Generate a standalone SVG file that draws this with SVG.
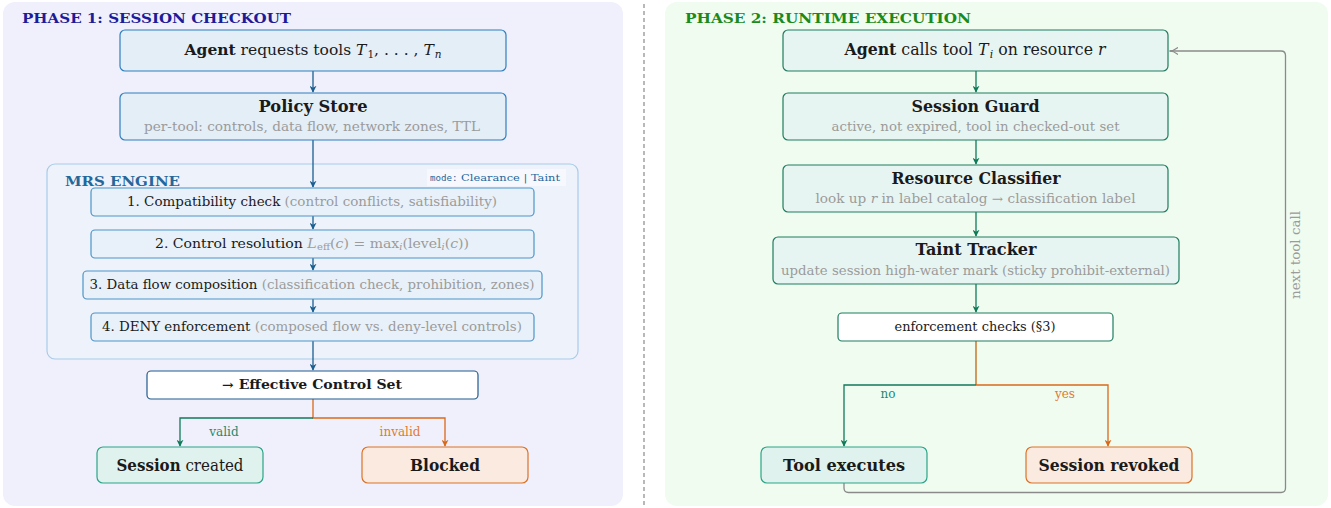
<svg xmlns="http://www.w3.org/2000/svg" width="1331" height="508" viewBox="0 0 1331 508">
<defs>
<style>
text{font-family:"DejaVu Serif","Liberation Serif",serif;fill:#1a1a1a}
.ttl{font-size:16.4px;font-weight:bold;text-anchor:middle}
.big{font-size:16px;text-anchor:middle}
.sub{font-size:12.2px;fill:#9b9b9b;text-anchor:middle}
.step{font-size:12px;text-anchor:middle}
.gr{fill:#9b9b9b}
.nb{fill:#e3eef7;stroke:#2f7fbf;stroke-width:1.2}
.sb{fill:#e8f1f9;stroke:#4b95c9;stroke-width:1.2}
.ng{fill:#e7f5f2;stroke:#1f7c60;stroke-width:1.2}
.okb{fill:#dff2ed;stroke:#2aa588;stroke-width:1.2}
.badb{fill:#fbeadf;stroke:#dc7226;stroke-width:1.2}
.ab{stroke:#1b5f91;stroke-width:1.3;fill:none}
.ag{stroke:#0f7a5a;stroke-width:1.3;fill:none}
.ao{stroke:#d9691a;stroke-width:1.3;fill:none}
.agray{stroke:#8a8a8a;stroke-width:1.3;fill:none}
.it{font-style:italic}
</style>
<marker id="mb" viewBox="0 0 10 10" refX="9" refY="5" markerWidth="7" markerHeight="7" orient="auto" markerUnits="userSpaceOnUse"><path d="M0,0 L10,5 L0,10 L3,5 Z" fill="#1b5f91"/></marker>
<marker id="mg" viewBox="0 0 10 10" refX="9" refY="5" markerWidth="7" markerHeight="7" orient="auto" markerUnits="userSpaceOnUse"><path d="M0,0 L10,5 L0,10 L3,5 Z" fill="#0f7a5a"/></marker>
<marker id="mo" viewBox="0 0 10 10" refX="9" refY="5" markerWidth="7" markerHeight="7" orient="auto" markerUnits="userSpaceOnUse"><path d="M0,0 L10,5 L0,10 L3,5 Z" fill="#d9691a"/></marker>
<marker id="mgr" viewBox="0 0 10 10" refX="9" refY="5" markerWidth="9" markerHeight="9" orient="auto" markerUnits="userSpaceOnUse"><path d="M0,1 Q5,5 10,5 Q5,5 0,9" fill="none" stroke="#8a8a8a" stroke-width="1.3"/></marker>
</defs>

<g id="panels">
<rect x="3" y="2" width="620" height="504" rx="12" fill="#f0f0fc"/>
<rect x="665" y="2" width="663" height="504" rx="12" fill="#f0fcf0"/>
<line x1="644" y1="4" x2="644" y2="506" stroke="#8a8a8a" stroke-width="1.2" stroke-dasharray="4,3"/>
<text x="22" y="22.5" font-size="12.5" font-weight="bold" style="fill:#1c1c9a" textLength="269" lengthAdjust="spacingAndGlyphs">PHASE 1: SESSION CHECKOUT</text>
<text x="685" y="22.5" font-size="12.5" font-weight="bold" style="fill:#1a8a1a" textLength="286" lengthAdjust="spacingAndGlyphs">PHASE 2: RUNTIME EXECUTION</text>
</g>

<g id="mrs-engine">
<rect x="47" y="164" width="531" height="195" rx="8" fill="#eef2fb" stroke="#a6cce8" stroke-width="1.2"/>
<text x="65" y="186" font-size="13" font-weight="bold" style="fill:#24679b" textLength="115" lengthAdjust="spacingAndGlyphs">MRS ENGINE</text>
<rect x="427" y="169" width="139" height="17" fill="#f7f8fe"/>
<text x="430" y="181" font-size="10" style="fill:#24679b" textLength="130" lengthAdjust="spacingAndGlyphs"><tspan font-family="DejaVu Sans Mono,monospace" font-size="8">mode:</tspan> Clearance | Taint</text>
</g>

<g id="connectors">
<line class="ab" x1="313" y1="71" x2="313" y2="92" marker-end="url(#mb)"/>
<line class="ab" x1="313" y1="140" x2="313" y2="187" marker-end="url(#mb)"/>
<line class="ab" x1="313" y1="216" x2="313" y2="229" marker-end="url(#mb)"/>
<line class="ab" x1="313" y1="258" x2="313" y2="270" marker-end="url(#mb)"/>
<line class="ab" x1="313" y1="299" x2="313" y2="312" marker-end="url(#mb)"/>
<line class="ab" x1="313" y1="341" x2="313" y2="370" marker-end="url(#mb)"/>
<path class="ao" d="M313,399 V418 H445 V446" marker-end="url(#mo)"/>
<path class="ag" d="M313,418 H180 V446" marker-end="url(#mg)"/>
<text x="224" y="436" font-size="12" style="fill:#1f8a70" text-anchor="middle">valid</text>
<text x="400" y="436" font-size="12" style="fill:#e07a30" text-anchor="middle">invalid</text>

<line class="ag" x1="976" y1="71" x2="976" y2="92" marker-end="url(#mg)"/>
<line class="ag" x1="976" y1="140" x2="976" y2="164" marker-end="url(#mg)"/>
<line class="ag" x1="976" y1="212" x2="976" y2="236" marker-end="url(#mg)"/>
<line class="ag" x1="976" y1="284" x2="976" y2="312" marker-end="url(#mg)"/>
<path stroke="#c0650f" stroke-width="1.3" fill="none" d="M976,341 V385"/>
<path class="ao" d="M976,385 H1108 V446" marker-end="url(#mo)"/>
<path class="ag" d="M976,385 H844 V446" marker-end="url(#mg)"/>
<text x="888" y="398" font-size="12" style="fill:#1f8a70" text-anchor="middle">no</text>
<text x="1065" y="398" font-size="12" style="fill:#e07a30" text-anchor="middle">yes</text>
<path class="agray" d="M844,483 V488 Q844,492.5 848.5,492.5 H1281 Q1285.5,492.5 1285.5,488 V55.5 Q1285.5,51 1281,51 H1170" marker-end="url(#mgr)"/>
<text transform="translate(1300,255) rotate(-90)" font-size="12" class="gr" text-anchor="middle" textLength="88" lengthAdjust="spacingAndGlyphs">next tool call</text>
</g>

<g id="agent-request">
<rect class="nb" x="120" y="30" width="386" height="41" rx="5"/>
<text x="313" y="55" font-size="15.5" text-anchor="middle"><tspan font-weight="bold">Agent</tspan> requests tools <tspan class="it">T</tspan><tspan font-size="10.5" dx="1" dy="3">1</tspan><tspan dy="-3">, . . . , </tspan><tspan class="it">T</tspan><tspan class="it" font-size="10.5" dx="1" dy="3">n</tspan></text>
</g>

<g id="policy-store">
<rect class="nb" x="120" y="93" width="386" height="47" rx="5"/>
<text class="ttl" x="313" y="111.5" textLength="109" lengthAdjust="spacingAndGlyphs">Policy Store</text>
<text class="sub" x="312" y="131" textLength="336" lengthAdjust="spacingAndGlyphs">per-tool: controls, data flow, network zones, TTL</text>
</g>

<g id="step1">
<rect class="sb" x="91" y="188" width="443" height="28" rx="4"/>
<text class="step" x="312" y="206" textLength="370" lengthAdjust="spacingAndGlyphs">1. Compatibility check <tspan class="gr">(control conflicts, satisfiability)</tspan></text>
</g>
<g id="step2">
<rect class="sb" x="91" y="230" width="443" height="28" rx="4"/>
<text class="step" x="312" y="247.5" textLength="314" lengthAdjust="spacingAndGlyphs">2. Control resolution <tspan class="gr"><tspan class="it">L</tspan><tspan font-size="8.5" dx="0.5" dy="2.5">eff</tspan><tspan dy="-2.5">(</tspan><tspan class="it">c</tspan>) = max<tspan class="it" font-size="8.5" dy="2.5">i</tspan><tspan dy="-2.5">(level</tspan><tspan class="it" font-size="8.5" dy="2.5">i</tspan><tspan dy="-2.5">(</tspan><tspan class="it">c</tspan>))</tspan></text>
</g>
<g id="step3">
<rect class="sb" x="83" y="271" width="459" height="28" rx="4"/>
<text class="step" x="312" y="289" textLength="445" lengthAdjust="spacingAndGlyphs">3. Data flow composition <tspan class="gr">(classification check, prohibition, zones)</tspan></text>
</g>
<g id="step4">
<rect class="sb" x="91" y="313" width="443" height="28" rx="4"/>
<text class="step" x="312" y="330.5" textLength="420" lengthAdjust="spacingAndGlyphs">4. DENY enforcement <tspan class="gr">(composed flow vs. deny-level controls)</tspan></text>
</g>

<g id="effective-control-set">
<rect x="147" y="371" width="331" height="28" rx="4" fill="#ffffff" stroke="#1f5a8c" stroke-width="1.2"/>
<text class="step" x="312" y="389" font-weight="bold" textLength="180" lengthAdjust="spacingAndGlyphs">→ Effective Control Set</text>
</g>

<g id="session-created">
<rect class="okb" x="97" y="447" width="166" height="36" rx="6"/>
<text class="big" x="180" y="470.5" textLength="127" lengthAdjust="spacingAndGlyphs"><tspan font-weight="bold">Session</tspan> created</text>
</g>
<g id="blocked">
<rect class="badb" x="362" y="447" width="166" height="36" rx="6"/>
<text class="ttl" x="445" y="470.5" textLength="70" lengthAdjust="spacingAndGlyphs">Blocked</text>
</g>

<g id="agent-call">
<rect class="ng" x="783" y="30" width="385" height="41" rx="5"/>
<text class="big" x="975" y="55" textLength="261" lengthAdjust="spacingAndGlyphs"><tspan font-weight="bold">Agent</tspan> calls tool <tspan class="it">T</tspan><tspan class="it" font-size="11" dx="1.5" dy="3">i</tspan><tspan dy="-3"> on resource </tspan><tspan class="it">r</tspan></text>
</g>
<g id="session-guard">
<rect class="ng" x="783" y="93" width="385" height="47" rx="5"/>
<text class="ttl" x="975.5" y="111.5" textLength="128" lengthAdjust="spacingAndGlyphs">Session Guard</text>
<text class="sub" x="975.5" y="131" textLength="288" lengthAdjust="spacingAndGlyphs">active, not expired, tool in checked-out set</text>
</g>
<g id="resource-classifier">
<rect class="ng" x="783" y="165" width="385" height="47" rx="5"/>
<text class="ttl" x="976" y="184" textLength="169" lengthAdjust="spacingAndGlyphs">Resource Classifier</text>
<text class="sub" x="975.5" y="203" textLength="320" lengthAdjust="spacingAndGlyphs">look up <tspan class="it">r</tspan> in label catalog → classification label</text>
</g>
<g id="taint-tracker">
<rect class="ng" x="773" y="237" width="406" height="47" rx="5"/>
<text class="ttl" x="976" y="255" textLength="121" lengthAdjust="spacingAndGlyphs">Taint Tracker</text>
<text class="sub" x="975.5" y="275" textLength="389" lengthAdjust="spacingAndGlyphs">update session high-water mark (sticky prohibit-external)</text>
</g>
<g id="enforcement-checks">
<rect x="838" y="313" width="275" height="28" rx="4" fill="#ffffff" stroke="#1f7c60" stroke-width="1.2"/>
<text class="step" x="975" y="331" textLength="161" lengthAdjust="spacingAndGlyphs">enforcement checks (§3)</text>
</g>
<g id="tool-executes">
<rect class="okb" x="761" y="447" width="166" height="36" rx="6"/>
<text class="ttl" x="844" y="470.5" textLength="122" lengthAdjust="spacingAndGlyphs">Tool executes</text>
</g>
<g id="session-revoked">
<rect class="badb" x="1026" y="447" width="166" height="36" rx="6"/>
<text class="ttl" x="1109" y="470.5" textLength="141" lengthAdjust="spacingAndGlyphs">Session revoked</text>
</g>
</svg>
